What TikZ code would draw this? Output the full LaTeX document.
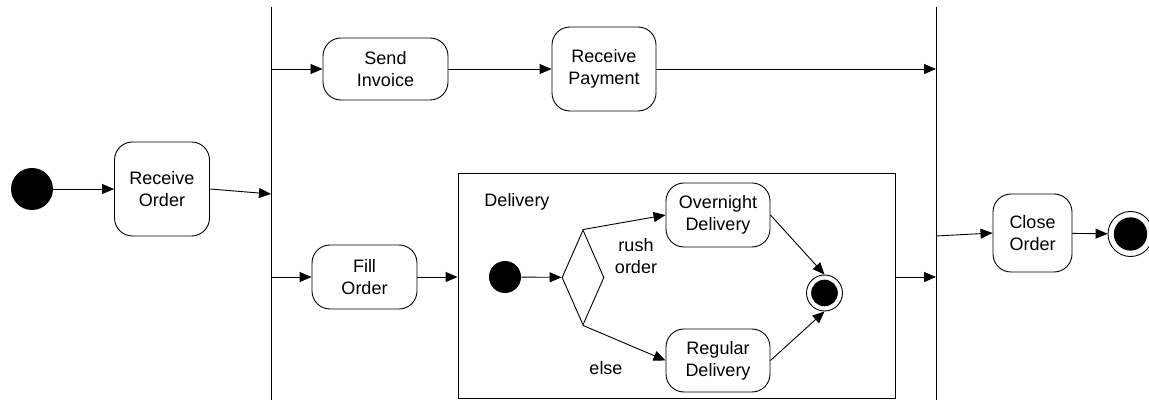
\documentclass[tikz,border=0pt]{standalone}
\usepackage{fontspec}
\setmainfont{Liberation Sans}
\usetikzlibrary{arrows.meta}
\usetikzlibrary{shapes.geometric}

\begin{document}
\begin{tikzpicture} [x=1pt, y=-1pt, line width=0.9pt, >={Triangle[length=12pt,width=10pt]},
        every node/.style={font=\fontsize{18}{22}\selectfont, align=center, inner sep=0pt},
        activity/.style={draw, rounded corners=18pt},
        initial/.style={circle, fill, minimum size=#1},
        final/.style={circle, draw, minimum size=#1,
            path picture={\fill (path picture bounding box.center) circle (0.37*#1);}},
        bar/.style={line width=1pt}]
            \useasboundingbox (0,0) rectangle (1149,403);

            % fork and join bars
            \coordinate (fork top) at (271,7);
            \coordinate (fork bottom) at (271,400);
            \coordinate (join top) at (936,7);
            \coordinate (join bottom) at (936,400);
            \draw[bar] (fork top) -- (fork bottom);
            \draw[bar] (join top) -- (join bottom);

            \coordinate (fork in) at (271,194);
            \coordinate (fork a) at (271,69);
            \coordinate (fork b) at (271,277);
            \coordinate (join a) at (936,69);
            \coordinate (join b) at (936,277);
            \coordinate (join out) at (936,236);

            \node[initial=42pt] (start) at (32,189) {};
            \node[activity, minimum width=95pt, minimum height=94pt] (receive) at (162,189) {Receive\\Order};
            \node[activity, minimum width=125pt, minimum height=62pt] (send) at (385.5,69) {Send\\Invoice};
            \node[activity, minimum width=104pt, minimum height=84pt] (payment) at (604,69) {Receive\\Payment};
            \node[activity, minimum width=105pt, minimum height=64pt] (fill) at (364.5,277) {Fill\\Order};

            % delivery sub-activity
            \node[draw, minimum width=437pt, minimum height=225pt] (delivery) at (676.5,285.5) {};
            \node (dlabel) at (517,202) {Delivery};
            \node[initial=32pt] (dstart) at (505,277) {};
            \node[draw, diamond, minimum width=42pt, minimum height=95pt] (choice) at (583,277.5) {};
            \node[activity, minimum width=104pt, minimum height=64pt] (overnight) at (718,215) {Overnight\\Delivery};
            \node[activity, minimum width=104pt, minimum height=63pt] (regular) at (718,360.5) {Regular\\Delivery};
            \node[final=36pt] (dend) at (824.5,293) {};
            \node (rush) at (636,256) {rush\\order};
            \node (else) at (606,368) {else};

            \node[activity, minimum width=79pt, minimum height=78pt] (close) at (1032.5,233) {Close\\Order};
            \node[final=45pt] (finish) at (1130.5,234) {};

            \draw[->] (start) -- (receive);
            \draw[->] (receive.east) -- (fork in);
            \draw[->] (fork a) -- (send);
            \draw[->] (send) -- (payment);
            \draw[->] (payment) -- (join a);
            \draw[->] (fork b) -- (fill);
            \draw[->] (fill.east) -- (fill.east -| delivery.west);
            \draw[->] (dstart) -- (choice);
            \draw[->] (choice.north) -- (overnight.west);
            \draw[->] (choice.south) -- (regular.west);
            \draw[->] (overnight.east) -- (dend.north);
            \draw[->] (regular.east) -- (dend.south);
            \draw[->] (delivery.east |- fill) -- (join b);
            \draw[->] (join out) -- (close.west);
            \draw[->] (close) -- (finish);
        \end{tikzpicture}
\end{document}
